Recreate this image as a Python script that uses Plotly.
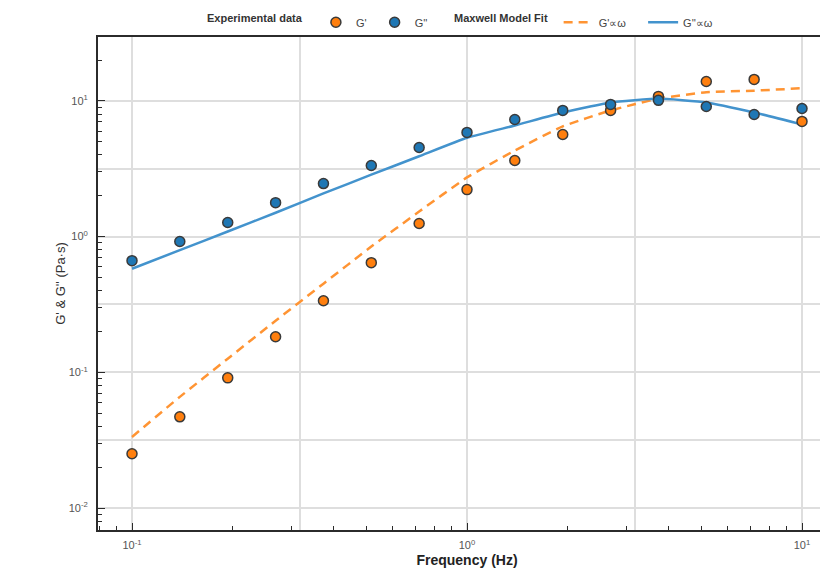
import plotly.graph_objects as go

# ---------------- data ----------------
freq = [0.1, 0.1389, 0.1931, 0.2683, 0.3728, 0.518, 0.7197, 1.0,
        1.389, 1.931, 2.683, 3.728, 5.18, 7.197, 10.0]

g_prime = [0.0251, 0.047, 0.091, 0.183, 0.337, 0.643, 1.25, 2.22,
           3.64, 5.66, 8.51, 10.8, 13.9, 14.4, 7.06]
g_double = [0.665, 0.92, 1.27, 1.78, 2.46, 3.34, 4.54, 5.86,
            7.30, 8.51, 9.42, 10.1, 9.1, 7.94, 8.8]

fit_g_prime = [0.0334, 0.0659, 0.126, 0.240, 0.450, 0.844, 1.53, 2.73,
               4.31, 6.49, 8.51, 10.4, 11.6, 11.9, 12.4]
fit_g_double = [0.580, 0.795, 1.09, 1.50, 2.08, 2.86, 3.91, 5.35,
                6.59, 8.22, 9.75, 10.4, 9.75, 8.22, 6.71]

decade_vals = [0.01, 0.1, 1, 10]
decade_text = ["10<sup>-2</sup>", "10<sup>-1</sup>", "10<sup>0</sup>", "10<sup>1</sup>"]
half_decades = [10 ** -1.5, 10 ** -0.5, 10 ** 0.5, 10 ** 1.5]
minor_vals = [m * d for d in [0.001, 0.01, 0.1, 1, 10] for m in range(2, 10)]

# ---------------- styles ----------------
ORANGE = "#ff7f0e"
BLUE = "#1f77b4"
ORANGE_LINE = "#ff9433"
BLUE_LINE = "#4393cd"
GRID = "#dedede"
FONT = "Liberation Sans, Arial, sans-serif"
XR = [-1.1015, 1.1015]
YR = [-2.162, 1.471]
NB = "\u00a0"

fig = go.Figure()

# helper (invisible) traces so the overlay grid axes get drawn
fig.add_trace(go.Scatter(x=freq, y=g_double, xaxis="x2", yaxis="y", mode="none",
                         showlegend=False, hoverinfo="skip"))
fig.add_trace(go.Scatter(x=freq, y=g_double, xaxis="x", yaxis="y2", mode="none",
                         showlegend=False, hoverinfo="skip"))

fig.add_trace(go.Scatter(
    x=freq, y=fit_g_prime, mode="lines", name="G'∝ω" + NB * 4, legend="legend2",
    line=dict(color=ORANGE_LINE, width=2.5, dash="9px,6px", shape="spline", smoothing=0.4),
))
fig.add_trace(go.Scatter(
    x=freq, y=fit_g_double, mode="lines", name="G''∝ω", legend="legend2",
    line=dict(color=BLUE_LINE, width=2.5, shape="spline", smoothing=0.4),
))
fig.add_trace(go.Scatter(
    x=freq, y=g_prime, mode="markers", name="G'" + NB, legend="legend",
    marker=dict(color=ORANGE, size=10, line=dict(color="#3a3a3a", width=1.5)),
))
fig.add_trace(go.Scatter(
    x=freq, y=g_double, mode="markers", name="G''", legend="legend",
    marker=dict(color=BLUE, size=10, line=dict(color="#3a3a3a", width=1.5)),
))

axis_common = dict(
    type="log", showline=True, linecolor="#2b2b2b", linewidth=2, mirror=True,
    ticks="inside", ticklen=7, tickwidth=1.2, tickcolor="#2b2b2b",
    showgrid=True, gridcolor=GRID, gridwidth=1.5, zeroline=False,
    tickfont=dict(size=11, color="#555555", family=FONT),
    tickvals=decade_vals, ticktext=decade_text, automargin=False,
    minor=dict(tickvals=minor_vals, ticks="inside", ticklen=4,
               tickcolor="#2b2b2b", showgrid=False),
)
grid_axis = dict(type="log", tickvals=half_decades, showticklabels=False, ticks="",
                 showgrid=True, gridcolor=GRID, gridwidth=1.5, showline=False,
                 zeroline=False, automargin=False)

fig.update_layout(
    width=828, height=570,
    margin=dict(l=90, r=0, t=29, b=48, autoexpand=False),
    paper_bgcolor="white", plot_bgcolor="white",
    font=dict(family=FONT, color="#333333"),
    xaxis=dict(
        **axis_common, range=XR, ticklabelstandoff=4,
        title=dict(text="<b>Frequency (Hz)</b>",
                   font=dict(size=14, color="#222222", family="Liberation Sans Narrow, " + FONT),
                   standoff=5),
    ),
    yaxis=dict(
        **axis_common, range=YR, ticklabelstandoff=6,
        title=dict(text="G' & G'' (Pa·s)", font=dict(size=13, color="#333333"),
                   standoff=0),
    ),
    xaxis2=dict(**grid_axis, overlaying="x", anchor="y", range=XR),
    yaxis2=dict(**grid_axis, overlaying="y", anchor="x", range=YR),
    legend=dict(
        orientation="h", x=0.1466 * 730 / 738, xanchor="left", y=1.030, yanchor="middle",
        title=dict(text="<b>Experimental data</b>" + NB * 2, side="left",
                   font=dict(size=11, color="#333333")),
        font=dict(size=11, color="#444444"), bgcolor="rgba(0,0,0,0)",
    ),
    legend2=dict(
        orientation="h", x=0.485 * 730 / 738, xanchor="left", y=1.030, yanchor="middle",
        title=dict(text="<b>Maxwell Model Fit</b>" + NB, side="left",
                   font=dict(size=11, color="#333333")),
        font=dict(size=11, color="#444444"), bgcolor="rgba(0,0,0,0)",
    ),
    showlegend=True,
)

fig.write_html(
    "out.html",
    post_script="document.documentElement.style.overflow='hidden';"
                "document.body.style.overflow='hidden';",
)
